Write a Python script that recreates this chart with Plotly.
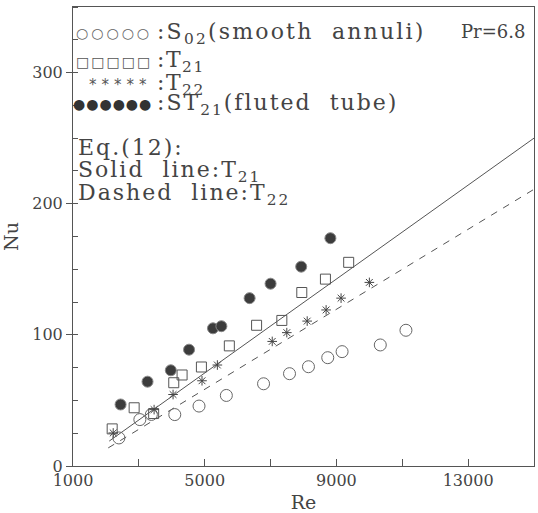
import plotly.graph_objects as go

# ---- data ----
s02_re = [2394, 3030, 3380, 4091, 4827, 5657, 6787, 7575, 8151, 8736, 9172, 10332, 11111]
s02_nu = [21.4, 35.4, 39.3, 39.2, 45.7, 53.8, 62.7, 70.4, 75.7, 82.6, 87.2, 92.3, 103.5]

t21_re = [2190, 2857, 3450, 4060, 4313, 4900, 5748, 6575, 7342, 7948, 8666, 9372]
t21_nu = [28.3, 44.4, 40.0, 63.5, 69.4, 75.5, 91.6, 107.3, 111.0, 132.3, 142.5, 155.3]

t22_re = [2221, 3463, 4039, 4918, 5384, 7050, 7493, 8112, 8687, 9141, 10000]
t22_nu = [25.2, 43.0, 54.5, 65.0, 77.0, 95.0, 101.7, 110.5, 119.0, 128.0, 140.0]

st21_re = [2445, 3263, 3970, 4524, 5251, 5506, 6363, 7000, 7930, 8817]
st21_nu = [46.9, 64.3, 73.0, 88.7, 105.0, 106.6, 128.0, 139.0, 152.0, 173.7]

eq_t21_re = [2100, 15000]
eq_t21_nu = [19.0, 250.0]
eq_t22_re = [2070, 15000]
eq_t22_nu = [13.8, 211.0]

x_tickvals = [1000, 3000, 5000, 7000, 9000, 11000, 13000, 15000]
x_ticktext = ["1000", "", "5000", "", "9000", "", "13000", ""]
y_tickvals = [0, 100, 200, 300]
y_ticktext = ["0", "100", "200", "300"]

INK = "#444444"
LINE = "#555555"
SERIF = "DejaVu Serif"

fig = go.Figure()

fig.add_trace(go.Scatter(x=eq_t21_re, y=eq_t21_nu, mode="lines",
                         line=dict(color=LINE, width=1), showlegend=False))
fig.add_trace(go.Scatter(x=eq_t22_re, y=eq_t22_nu, mode="lines",
                         line=dict(color=LINE, width=1, dash="7px,7px"), showlegend=False))

fig.add_trace(go.Scatter(x=s02_re, y=s02_nu, mode="markers", showlegend=False,
                         marker=dict(symbol="circle-open", size=12, color="#666666",
                                     line=dict(width=1))))
fig.add_trace(go.Scatter(x=t21_re, y=t21_nu, mode="markers", showlegend=False,
                         marker=dict(symbol="square-open", size=10, color="#555555",
                                     line=dict(width=1))))
fig.add_trace(go.Scatter(x=t22_re, y=t22_nu, mode="markers", showlegend=False,
                         marker=dict(symbol="asterisk-open", size=8, color="#444444",
                                     line=dict(width=1, color="#444444"))))
fig.add_trace(go.Scatter(x=st21_re, y=st21_nu, mode="markers", showlegend=False,
                         marker=dict(symbol="circle", size=11, color="#3c3c3c",
                                     line=dict(width=1, color="#888888"))))

# plot area in pixels: x 73..535, y 7..468
def px(xp):
    return (xp - 73) / 462.0

def py(yp):
    return (468 - yp) / 461.0

ann = []
def add(text, x, y, xanchor="left", size=22, family=SERIF, color=INK, spacing=None):
    if spacing is not None:
        text = '<span style="letter-spacing:%spx">%s</span>' % (spacing, text)
    ann.append(dict(text=text, x=px(x), y=py(y), xref="paper", yref="paper",
                    xanchor=xanchor, yanchor="middle", showarrow=False,
                    font=dict(family=family, size=size, color=color)))

GLYPH = "DejaVu Sans"
add("○○○○○", 154, 33, xanchor="right", size=14, family=GLYPH, color="#666666", spacing=3)
add("□□□□□", 154, 62, xanchor="right", size=14, family=GLYPH, color="#555555", spacing=2)
add("*****", 154, 85, xanchor="right", size=15, family=GLYPH, color="#555555", spacing=5)
add("●●●●●●", 154, 104, xanchor="right", size=14, family=GLYPH, color="#333333", spacing=1)

add(":S<sub>02</sub>(smooth\u00a0\u00a0annuli)", 155, 34, spacing=2.2)
add(":T<sub>21</sub>", 155, 62, spacing=1.5)
add(":T<sub>22</sub>", 155, 85, spacing=1.5)
add(":ST<sub>21</sub>(fluted\u00a0\u00a0tube)", 155, 105, spacing=2)
add("Pr=6.8", 528, 32, xanchor="right", size=18)

add("Eq.(12):", 76, 148, spacing=2)
add("Solid\u00a0\u00a0line:T<sub>21</sub>", 76, 172, spacing=2)
add("Dashed\u00a0\u00a0line:T<sub>22</sub>", 76, 195, spacing=2)

fig.update_layout(
    width=538, height=513,
    margin=dict(l=73, r=3, t=7, b=45),
    paper_bgcolor="white", plot_bgcolor="white",
    font=dict(family=SERIF, color=INK),
    annotations=ann,
    xaxis=dict(range=[1000, 15000], tickvals=x_tickvals, ticktext=x_ticktext,
               ticks="inside", ticklen=7, tickcolor=LINE, showgrid=False, zeroline=False,
               showline=True, linecolor=LINE, linewidth=1, mirror=True,
               tickfont=dict(family=SERIF, size=16, color=INK),
               title=dict(text="Re", font=dict(family=SERIF, size=19, color=INK), standoff=6)),
    yaxis=dict(range=[0, 350], tickvals=y_tickvals, ticktext=y_ticktext,
               ticks="outside", ticklen=6, tickcolor=LINE, showgrid=False, zeroline=False,
               showline=True, linecolor=LINE, linewidth=1, mirror=True,
               tickfont=dict(family=SERIF, size=16, color=INK),
               minor=dict(dtick=25, tick0=0, ticks="inside", ticklen=5, tickcolor=LINE,
                          showgrid=False),
               title=dict(text="Nu", font=dict(family=SERIF, size=19, color=INK), standoff=12)),
)

fig.write_html("out.html", config={"displayModeBar": False},
               post_script="document.body.style.margin='0';document.body.style.overflow='hidden';")
